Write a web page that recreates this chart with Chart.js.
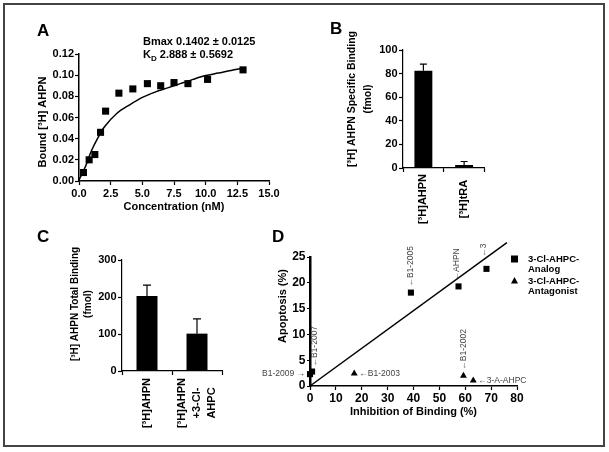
<!DOCTYPE html>
<html>
<head>
<script src="https://cdn.jsdelivr.net/npm/chart.js"></script>
<title>AHPN binding</title>
<style>
  body { margin: 0; background: #fff; }
  #fig { position: relative; width: 609px; height: 452px; background: #fff; }
  #fig canvas { position: absolute; left: 0; top: 0; }
  #frame { position: absolute; left: 3px; top: 3px; width: 598px; height: 440px; border: 2px solid #444; }
</style>
</head>
<body>
<div id="fig">
  <div id="frame"></div>
  <canvas id="chartA" width="609" height="452"></canvas>
  <canvas id="chartB" width="609" height="452"></canvas>
  <canvas id="chartC" width="609" height="452"></canvas>
  <canvas id="chartD" width="609" height="452"></canvas>
</div>

<script>
// A - saturation binding
const concNM = [0.35, 0.8, 1.25, 1.7, 2.1, 3.15, 4.25, 5.4, 6.45, 7.5, 8.6, 10.15, 12.95];
const boundAHPN = [0.008, 0.020, 0.025, 0.046, 0.066, 0.083, 0.087, 0.092, 0.090, 0.093, 0.092, 0.096, 0.105];
const fitConc = [0, 0.5, 1, 1.5, 2, 3, 4, 5, 6, 7, 8, 9, 10, 11, 12, 12.9];
const fitBound = [0.001, 0.0135, 0.029, 0.041, 0.051, 0.064, 0.072, 0.079, 0.084, 0.088, 0.092, 0.096, 0.0996, 0.102, 0.1045, 0.1065];

// B - specific binding
const bLabels = ['[³H]AHPN', '[³H]tRA'];
const bMean = [82.4, 2.5];
const bErr = [5.6, 3.0];

// C - total binding
const cLabels = ['[³H]AHPN', ['[³H]AHPN', '+3-Cl-', 'AHPC']];
const cMean = [203, 101];
const cErr = [29, 40];

// D - apoptosis vs inhibition
const analogX = [0, 0.8, 39, 57.4, 68.2];
const analogY = [2.3, 2.8, 18.1, 19.3, 22.7];
const analogNames = ['B1-2009', 'B1-2007', 'B1-2005', 'AHPN', '3'];
const antagX = [17.1, 59.3, 63.1];
const antagY = [2.4, 2.0, 1.05];
const antagNames = ['B1-2003', 'B1-2002', '3-A-AHPC'];
const lineX = [0, 76.1];
const lineY = [0, 27.8];

const W = 609, H = 452;
const FAM = "'Liberation Sans', Arial, Helvetica, sans-serif";
Chart.defaults.font.family = FAM;
Chart.defaults.color = '#000';

const bold = px => ({ family: FAM, size: px, weight: 'bold' });
const pts = (xs, ys) => xs.map((x, i) => ({ x: x, y: ys[i] }));

function txt(ctx, s, x, y, o) {
  ctx.save();
  ctx.font = o.font;
  ctx.fillStyle = o.color || '#000';
  ctx.textAlign = o.align || 'left';
  ctx.textBaseline = o.base || 'middle';
  ctx.translate(x, y);
  if (o.rot) ctx.rotate(o.rot);
  ctx.fillText(s, 0, 0);
  ctx.restore();
}

// put the plot area of each panel at its place on the page-sized canvas
function place(area, scales) {
  scales.y.afterFit = s => { s.width = area.yw; };
  scales.x.afterFit = s => { s.height = area.xh; };
  return { padding: { left: area.l - area.yw, top: area.t, right: W - area.r, bottom: H - area.b - area.xh } };
}

function axis(min, max, step, fmt, px, tl, pad, bw) {
  return {
    type: 'linear', min: min, max: max,
    ticks: { stepSize: step, callback: fmt, font: bold(px), color: '#000', padding: pad },
    grid: { drawOnChartArea: false, color: '#000', tickLength: tl, tickWidth: 1.2 },
    border: { color: '#000', width: bw }
  };
}

function notes(items) {
  return { id: 'notes', afterDraw(chart) {
    items.forEach(it => txt(chart.ctx, it.t, it.x, it.y, it));
  }};
}

function errbars(errs, cap) {
  return { id: 'errbars', afterDatasetsDraw(chart) {
    const ctx = chart.ctx, y = chart.scales.y;
    const vals = chart.data.datasets[0].data;
    chart.getDatasetMeta(0).data.forEach((bar, i) => {
      const top = y.getPixelForValue(vals[i] + errs[i]);
      ctx.save();
      ctx.strokeStyle = '#000';
      ctx.lineWidth = 1.2;
      ctx.beginPath();
      ctx.moveTo(bar.x, bar.y);
      ctx.lineTo(bar.x, top);
      ctx.moveTo(bar.x - cap, top);
      ctx.lineTo(bar.x + cap, top);
      ctx.stroke();
      ctx.restore();
    });
  }};
}

// rotated category labels, centred on the tick
function catLabels(cy, px, lh) {
  return { id: 'catlabels', afterDraw(chart) {
    const x = chart.scales.x;
    chart.data.labels.forEach((lab, i) => {
      const lines = Array.isArray(lab) ? lab : [lab];
      const cx = x.getPixelForTick(i);
      lines.forEach((s, j) => txt(chart.ctx, s, cx + (j - (lines.length - 1) / 2) * lh, cy,
        { font: 'bold ' + px + 'px ' + FAM, align: 'center', rot: -Math.PI / 2 }));
    });
  }};
}

const common = {
  responsive: false, animation: false, events: [],
  plugins: { legend: { display: false }, tooltip: { enabled: false } }
};

// ---------- A ----------
const areaA = { l: 79, t: 54, r: 269, b: 181, yw: 40, xh: 36 };
const scalesA = {
  x: axis(0, 15, 2.5, v => v.toFixed(1), 11, 4, 2, 1.5),
  y: axis(0, 0.12, 0.02, v => v.toFixed(2), 11, 4, 1, 1.5)
};
scalesA.x.title = { display: true, text: 'Concentration (nM)', font: bold(11), color: '#000', padding: { top: 0, bottom: 3 } };

const kdText = {
  id: 'kd', afterDraw(chart) {
    const ctx = chart.ctx;
    ctx.save();
    ctx.font = 'bold 11px ' + FAM;
    const kw = ctx.measureText('K').width;
    ctx.font = 'bold 8px ' + FAM;
    const dw = ctx.measureText('D').width;
    ctx.restore();
    txt(ctx, 'K', 143, 55, { font: 'bold 11px ' + FAM });
    txt(ctx, 'D', 143 + kw, 59, { font: 'bold 8px ' + FAM });
    txt(ctx, ' 2.888 ± 0.5692', 143 + kw + dw, 55, { font: 'bold 11px ' + FAM });
  }
};

new Chart(document.getElementById('chartA'), {
  type: 'scatter',
  data: {
    datasets: [
      { data: pts(concNM, boundAHPN), pointStyle: 'rect', pointRadius: 5, backgroundColor: '#000', borderColor: '#000', borderWidth: 0, clip: false },
      { data: pts(fitConc, fitBound), showLine: true, pointRadius: 0, borderColor: '#000', borderWidth: 1.5, cubicInterpolationMode: 'monotone', clip: false }
    ]
  },
  options: Object.assign({}, common, { layout: place(areaA, scalesA), scales: scalesA }),
  plugins: [kdText, notes([
    { t: 'A', x: 37, y: 31, font: 'bold 17px ' + FAM },
    { t: 'Bmax 0.1402 ± 0.0125', x: 143, y: 41.5, font: 'bold 11px ' + FAM },
    { t: 'Bound [³H] AHPN', x: 43, y: 122, font: 'bold 11px ' + FAM, align: 'center', rot: -Math.PI / 2 }
  ])]
});

// ---------- B ----------
const areaB = { l: 403, t: 50, r: 484.5, b: 168, yw: 30, xh: 60 };
const scalesB = {
  x: { type: 'category', ticks: { display: false }, grid: { offset: true, drawOnChartArea: false, color: '#000', tickLength: 4, tickWidth: 1.2 }, border: { color: '#000', width: 1.2 } },
  y: axis(0, 100, 20, v => v, 11, 4, 1.5, 1.2)
};
new Chart(document.getElementById('chartB'), {
  type: 'bar',
  data: { labels: bLabels, datasets: [{ data: bMean, backgroundColor: '#000', barPercentage: 0.44, categoryPercentage: 1 }] },
  options: Object.assign({}, common, { layout: place(areaB, scalesB), scales: scalesB }),
  plugins: [errbars(bErr, 3.5), catLabels(199, 11, 14), notes([
    { t: 'B', x: 330, y: 29, font: 'bold 17px ' + FAM },
    { t: '[³H] AHPN Specific Binding', x: 352, y: 99, font: 'bold 10.5px ' + FAM, align: 'center', rot: -Math.PI / 2 },
    { t: '(fmol)', x: 368, y: 99, font: 'bold 10.5px ' + FAM, align: 'center', rot: -Math.PI / 2 }
  ])]
});

// ---------- C ----------
const areaC = { l: 122, t: 260, r: 222, b: 371, yw: 30, xh: 60 };
const scalesC = {
  x: { type: 'category', ticks: { display: false }, grid: { offset: true, drawOnChartArea: false, color: '#000', tickLength: 4, tickWidth: 1.2 }, border: { color: '#000', width: 1.2 } },
  y: axis(0, 300, 100, v => v, 11, 4, 1.5, 1.2)
};
new Chart(document.getElementById('chartC'), {
  type: 'bar',
  data: { labels: cLabels, datasets: [{ data: cMean, backgroundColor: '#000', barPercentage: 0.42, categoryPercentage: 1 }] },
  options: Object.assign({}, common, { layout: place(areaC, scalesC), scales: scalesC }),
  plugins: [errbars(cErr, 4), catLabels(403, 11, 15), notes([
    { t: 'C', x: 37, y: 237, font: 'bold 17px ' + FAM },
    { t: '[³H] AHPN Total Binding', x: 75, y: 304, font: 'bold 10px ' + FAM, align: 'center', rot: -Math.PI / 2 },
    { t: '(fmol)', x: 88, y: 304, font: 'bold 10px ' + FAM, align: 'center', rot: -Math.PI / 2 }
  ])]
});

// ---------- D ----------
const areaD = { l: 310, t: 257, r: 517, b: 386, yw: 30, xh: 36 };
const scalesD = {
  x: axis(0, 80, 10, v => v, 12, 4, 1, 1.5),
  y: axis(0, 25, 5, v => v, 12, 3, 1.5, 2.5)
};
scalesD.x.title = { display: true, text: 'Inhibition of Binding (%)', font: bold(11), color: '#000', padding: { top: 0, bottom: 3 } };

// where each compound name sits relative to its marker
const analogPlace = ['left', 'up', 'up', 'up', 'up'];
const antagPlace = ['right', 'up', 'right'];
const nudge = { 'B1-2007': [3, 5], 'AHPN': [-2, 6], '3': [-3, 12] };

const compoundNotes = {
  id: 'compounds', afterDatasetsDraw(chart) {
    const ctx = chart.ctx;
    const f = { font: '8.5px ' + FAM, color: '#444' };
    [[0, analogNames, analogPlace], [1, antagNames, antagPlace]].forEach(([ds, names, where]) => {
      chart.getDatasetMeta(ds).data.forEach((p, i) => {
        const n = nudge[names[i]] || [0, 6];
        if (where[i] === 'up') txt(ctx, '←' + names[i], p.x + n[0], p.y - n[1], Object.assign({ align: 'left', rot: -Math.PI / 2 }, f));
        else if (where[i] === 'right') txt(ctx, '←' + names[i], p.x + 5, p.y, Object.assign({ align: 'left' }, f));
        else txt(ctx, names[i] + ' →', p.x - 5, p.y, Object.assign({ align: 'right' }, f));
      });
    });
  }
};

const legendD = {
  id: 'legendD', afterDraw(chart) {
    const ctx = chart.ctx;
    ctx.save();
    ctx.fillStyle = '#000';
    ctx.fillRect(511, 255.5, 7, 7);
    ctx.beginPath();
    ctx.moveTo(514.5, 277);
    ctx.lineTo(518, 283.5);
    ctx.lineTo(511, 283.5);
    ctx.closePath();
    ctx.fill();
    ctx.restore();
    const f = { font: 'bold 9.5px ' + FAM };
    txt(ctx, '3-Cl-AHPC-', 528, 259, f);
    txt(ctx, 'Analog', 528, 269, f);
    txt(ctx, '3-Cl-AHPC-', 528, 281, f);
    txt(ctx, 'Antagonist', 528, 291.5, f);
  }
};

new Chart(document.getElementById('chartD'), {
  type: 'scatter',
  data: {
    datasets: [
      { label: '3-Cl-AHPC-Analog', data: pts(analogX, analogY), pointStyle: 'rect', pointRadius: 4.3, backgroundColor: '#000', borderWidth: 0, clip: false },
      { label: '3-Cl-AHPC-Antagonist', data: pts(antagX, antagY), pointStyle: 'triangle', pointRadius: 4, backgroundColor: '#000', borderWidth: 0, clip: false },
      { data: pts(lineX, lineY), showLine: true, pointRadius: 0, borderColor: '#000', borderWidth: 1.5, clip: false }
    ]
  },
  options: Object.assign({}, common, { layout: place(areaD, scalesD), scales: scalesD }),
  plugins: [compoundNotes, legendD, notes([
    { t: 'D', x: 272, y: 237, font: 'bold 17px ' + FAM },
    { t: 'Apoptosis (%)', x: 283, y: 306, font: 'bold 11px ' + FAM, align: 'center', rot: -Math.PI / 2 }
  ])]
});
</script>
</body>
</html>
